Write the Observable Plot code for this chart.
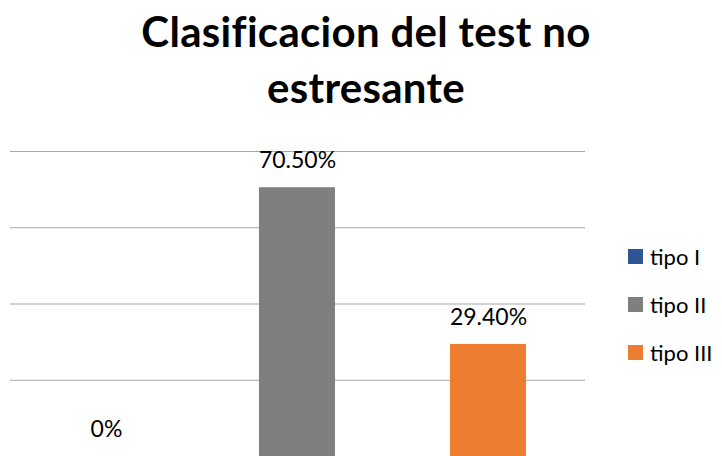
<!DOCTYPE html>
<html>
<head>
<meta charset="utf-8">
<script src="https://cdn.jsdelivr.net/npm/d3@7"></script>
<script src="https://cdn.jsdelivr.net/npm/@observablehq/plot@0.6"></script>
<style>
  html, body { margin: 0; padding: 0; background: #fff; }
  #wrap { position: relative; width: 722px; height: 456px; overflow: hidden; font-family: Lato, "Open Sans", sans-serif; }
  #title { position: absolute; left: 0; top: 3px; width: 732px; text-align: center; font-weight: 700; font-size: 42px; line-height: 56px; letter-spacing: 0.3px; color: #000; }
  #chart { position: absolute; left: 0; top: 130px; }
  #legend { position: absolute; left: 628px; top: 232px; font-size: 22px; color: #000; }
  .item { display: flex; align-items: center; height: 48px; white-space: nowrap; }
  .sw { width: 15px; height: 15px; margin-right: 7px; }
</style>
</head>
<body>
<div id="wrap">
  <div id="title">Clasificacion del test no<br>estresante</div>
  <div id="chart"></div>
  <div id="legend"></div>
</div>
<script>
const categories = ["tipo I", "tipo II", "tipo III"];
const values = [0, 70.5, 29.4];
const labels = ["0%", "70.50%", "29.40%"];
const colors = ["#2F5597", "#7F7F7F", "#ED7D31"];
const gridTicks = [20, 40, 60, 80];

const data = categories.map((c, i) => ({ cat: c, value: values[i], label: labels[i] }));

const chart = Plot.plot({
  width: 722,
  height: 326,
  marginLeft: 10,
  marginRight: 137,
  marginTop: 21,
  marginBottom: 0,
  x: { domain: categories, paddingInner: 0.6, paddingOuter: 0.3, axis: null },
  y: { domain: [0, 80], axis: null },
  color: { domain: categories, range: colors },
  style: { fontFamily: "Lato, 'Open Sans', sans-serif", background: "transparent", overflow: "visible" },
  marks: [
    Plot.ruleY(gridTicks, { stroke: "#a6a6a6", strokeWidth: 1.2 }),
    Plot.barY(data, { x: "cat", y: "value", fill: "cat" }),
    Plot.text(data, { x: "cat", y: "value", text: "label", dy: -27, fontSize: 23, fill: "#000" })
  ]
});
document.getElementById("chart").appendChild(chart);

const legend = document.getElementById("legend");
categories.forEach((c, i) => {
  const row = document.createElement("div");
  row.className = "item";
  const sw = document.createElement("span");
  sw.className = "sw";
  sw.style.background = colors[i];
  const t = document.createElement("span");
  t.textContent = c;
  row.appendChild(sw);
  row.appendChild(t);
  legend.appendChild(row);
});
</script>
</body>
</html>
